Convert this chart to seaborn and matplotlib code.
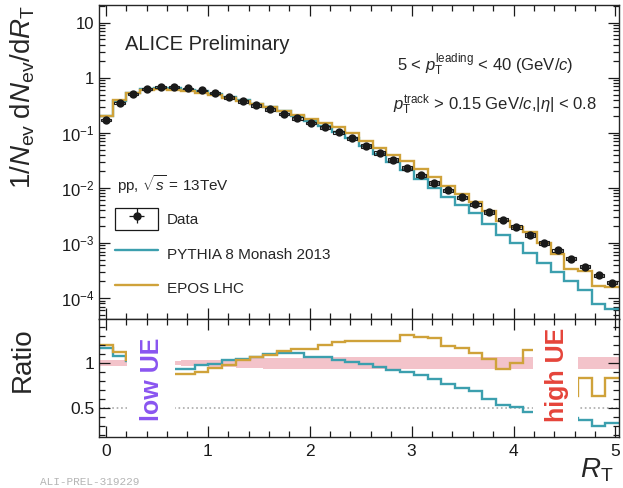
import numpy as np
import matplotlib
matplotlib.use("Agg")
import matplotlib.pyplot as plt
from matplotlib.patches import Rectangle
from matplotlib.lines import Line2D
from matplotlib.legend_handler import HandlerTuple
from matplotlib.ticker import MultipleLocator, LogLocator, NullFormatter, FuncFormatter
import seaborn as sns

# R_T bins (uniform, width = 1/<N_ch>)
bin_width = 0.1343
n_bins = 38

# 1/N_ev dN_ev/dR_T
data_vals = [0.172, 0.351, 0.512, 0.631, 0.686, 0.686, 0.644, 0.593, 0.523, 0.442,
             0.374, 0.316, 0.267, 0.222, 0.184, 0.152, 0.126, 0.102, 0.0794, 0.0580,
             0.0433, 0.0323, 0.0231, 0.0169, 0.0123, 0.0090, 0.00672, 0.00501, 0.00366, 0.00267,
             0.00195, 0.00140, 0.00100, 0.00073, 0.00052, 0.00037, 0.00026, 0.00019]
data_sys = [0.03, 0.03, 0.03, 0.03, 0.03, 0.025, 0.03, 0.035, 0.04, 0.045,
            0.05, 0.055, 0.06, 0.06, 0.06, 0.06, 0.06, 0.065, 0.065, 0.065,
            0.065, 0.07, 0.07, 0.07, 0.07, 0.07, 0.07, 0.07, 0.07, 0.07,
            0.07, 0.07, 0.07, 0.07, 0.07, 0.07, 0.07, 0.07]
pythia_vals = [0.201, 0.379, 0.522, 0.618, 0.652, 0.645, 0.605, 0.581, 0.518, 0.455,
               0.393, 0.338, 0.294, 0.246, 0.204, 0.163, 0.134, 0.106, 0.0802, 0.0574,
               0.0416, 0.0297, 0.0208, 0.0147, 0.0101, 0.00693, 0.00484, 0.00346, 0.00220, 0.00142,
               0.000995, 0.000644, 0.00044, 0.000299, 0.000203, 0.000137, 0.000078, 0.0000627]
epos_vals = [0.206, 0.393, 0.532, 0.612, 0.624, 0.604, 0.567, 0.534, 0.492, 0.433,
             0.385, 0.338, 0.291, 0.251, 0.213, 0.176, 0.151, 0.126, 0.0993, 0.0725,
             0.0541, 0.0404, 0.0303, 0.0218, 0.0157, 0.0107, 0.00786, 0.00556, 0.00384, 0.00251,
             0.00195, 0.00160, 0.00100, 0.00062, 0.000333, 0.000307, 0.000166, 0.000158]

# R_T regions hidden behind the "low UE" / "high UE" labels in the ratio
hidden_regions = [(0.205, 0.68), (4.19, 4.632)]

teal = "#3c9fae"
gold = "#cfa23a"
pink = "#f3c3ca"

sns.set_theme(style="ticks")
plt.rcParams["font.family"] = ["Liberation Sans", "DejaVu Sans"]
plt.rcParams["mathtext.fontset"] = "custom"
plt.rcParams["mathtext.rm"] = "Liberation Sans"
plt.rcParams["mathtext.it"] = "Liberation Sans:italic"
plt.rcParams["mathtext.bf"] = "Liberation Sans:bold"

rt_edges = (np.arange(n_bins + 1) - 0.5) * bin_width
rt_centers = np.arange(n_bins) * bin_width
data_arr = np.array(data_vals)
sys_arr = np.array(data_sys)

fig = plt.figure(figsize=(6.23, 4.88), dpi=100)
ax = fig.add_axes([0.1589, 0.3463, 0.8347, 0.6435])
axr = fig.add_axes([0.1589, 0.1045, 0.8347, 0.2418], sharex=ax)

#~~~~~~~~~~~~~~~~~~~~~~~~~~~~~ top panel ~~~~~~~~~~~~~~~~~~~~~~~~~~~~~#
ax.stairs(pythia_vals, rt_edges, color=teal, lw=1.7, baseline=None)
ax.stairs(epos_vals, rt_edges, color=gold, lw=1.7, baseline=None)
for c, v, s in zip(rt_centers, data_arr, sys_arr):
    ax.add_patch(Rectangle((c - 0.05, v * (1 - s)), 0.1, 2 * v * s,
                           fill=False, ec="k", lw=0.8, zorder=4))
sns.scatterplot(x=rt_centers, y=data_arr, ax=ax, color="k", s=36,
                linewidth=0, zorder=5, legend=False)

ax.set_yscale("log")
ax.set_xlim(-0.067, 5.035)
ax.set_ylim(4.15e-5, 21.2)

def log_fmt(v, pos):
    e = int(round(np.log10(v)))
    if e == 0:
        return "1"
    if e == 1:
        return "10"
    return r"$10^{%d}$" % e

ax.yaxis.set_major_locator(LogLocator(base=10, numticks=20))
ax.yaxis.set_minor_locator(LogLocator(base=10, subs=np.arange(2, 10), numticks=20))
ax.yaxis.set_major_formatter(FuncFormatter(log_fmt))
ax.yaxis.set_minor_formatter(NullFormatter())
ax.xaxis.set_major_locator(MultipleLocator(1))
ax.xaxis.set_minor_locator(MultipleLocator(0.2))
ax.tick_params(which="both", direction="in", top=True, right=True, labelbottom=False,
               labelsize=12, width=0.9, colors="k")
ax.tick_params(which="major", length=8)
ax.tick_params(which="minor", length=4)
ax.set_xlabel("")
ax.set_ylabel("")

ax.text(0.05, 0.873, "ALICE Preliminary", transform=ax.transAxes, fontsize=14.5,
        ha="left", va="center")
ax.text(0.742, 0.809, r"5 < $p_{\rm T}^{\rm leading}$ < 40 (GeV/$c$)", transform=ax.transAxes,
        fontsize=12, ha="center", va="center")
ax.text(0.762, 0.682, r"$p_{\rm T}^{\rm track}$ > 0.15 GeV/$c$,$|\eta|$ < 0.8", transform=ax.transAxes,
        fontsize=12, ha="center", va="center")
ax.text(0.035, 0.427, r"pp, $\sqrt{s}$ = 13TeV", transform=ax.transAxes,
        fontsize=11, ha="left", va="center")

data_proxy = ax.errorbar([np.nan], [np.nan], xerr=[1], yerr=[1], fmt="o", color="k",
                         ms=5, lw=0.9, capsize=0)
box_proxy = Rectangle((0, 0), 1, 1, fill=False, ec="k", lw=0.9)
handles = [(box_proxy, data_proxy),
           Line2D([], [], color=teal, lw=1.7),
           Line2D([], [], color=gold, lw=1.7)]
labels = ["Data", "PYTHIA 8 Monash 2013", "EPOS LHC"]
ax.legend(handles, labels, handler_map={tuple: HandlerTuple(ndivide=1)},
          loc="upper left", bbox_to_anchor=(0.031, 0.355), frameon=False,
          fontsize=11, borderpad=0, borderaxespad=0, handlelength=2.8,
          handleheight=1.9, labelspacing=0.8, handletextpad=0.6)

#~~~~~~~~~~~~~~~~~~~~~~~~~~~~~ ratio panel ~~~~~~~~~~~~~~~~~~~~~~~~~~~~~#
sys_band = np.append(sys_arr, sys_arr[-1])
axr.fill_between(rt_edges, 1 - sys_band, 1 + sys_band, step="post", color=pink, lw=0, zorder=1)
axr.axhline(0.5, color="#aaaaaa", ls=":", lw=1.2, zorder=1.5)
axr.stairs(np.array(pythia_vals) / data_arr, rt_edges, color=teal, lw=1.7, baseline=None, zorder=2)
axr.stairs(np.array(epos_vals) / data_arr, rt_edges, color=gold, lw=1.7, baseline=None, zorder=2)
for lo, hi in hidden_regions:
    axr.axvspan(lo, hi, color="white", lw=0, zorder=3)

axr.set_ylim(0.18, 1.49)
axr.yaxis.set_major_locator(MultipleLocator(0.5))
axr.yaxis.set_minor_locator(MultipleLocator(0.1))
axr.yaxis.set_major_formatter(FuncFormatter(lambda v, p: "%g" % v))
axr.tick_params(which="both", direction="in", top=True, right=True, labelsize=12.5,
                width=0.9, colors="k")
axr.tick_params(which="major", length=8)
axr.tick_params(which="minor", length=4)
axr.tick_params(axis="x", pad=5)
axr.set_xlabel("")
axr.set_ylabel("")
axr.xaxis.set_zorder(4)
axr.yaxis.set_zorder(4)
for sp in list(axr.spines.values()) + list(ax.spines.values()):
    sp.set_zorder(4)
    sp.set_linewidth(1.0)

axr.text(0.455, 0.82, "low UE", color="#8a55f0", fontsize=18, fontweight="bold",
         rotation=90, ha="center", va="center", zorder=5)
axr.text(4.43, 0.87, "high UE", color="#e5443a", fontsize=18, fontweight="bold",
         rotation=90, ha="center", va="center", zorder=5)

fig.text(0.036, 0.99, r"$1/N_{\rm ev}\;{\rm d}N_{\rm ev}/{\rm d}R_{\rm T}$", rotation=90,
         ha="center", va="top", fontsize=20)
fig.text(0.036, 0.262, "Ratio", rotation=90, ha="center", va="center", fontsize=20)
fig.text(0.985, 0.037, r"$R_{\rm T}$", ha="right", va="center", fontsize=20)
fig.text(0.064, 0.012, "ALI-PREL-319229", ha="left", va="center", fontsize=8,
         color="#b5b5b5", family="Liberation Mono")

fig.savefig("out.png", dpi=100)
